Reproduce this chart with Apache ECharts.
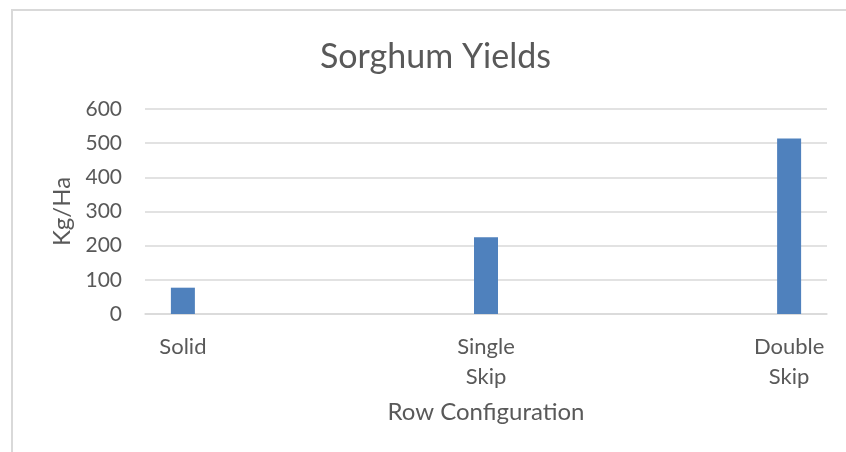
<!DOCTYPE html>
<html>
<head>
    <meta charset="utf-8">
    <title>Sorghum Yields</title>
    <script src="https://cdn.jsdelivr.net/npm/echarts@6/dist/echarts.min.js"></script>
    <style type="text/css">
        html, body { margin: 0; padding: 0; background: #fff; }
        #chart { width: 846px; height: 452px; }
    </style>
</head>
<body>
    <div id="chart"></div>
    <script>
        // categories are spread over 9 bands so bars sit like in the original
        var categories = ['Solid', '', '', '', 'Single\nSkip', '', '', '', 'Double\nSkip'];
        var yields = [77, null, null, null, 225, null, null, null, 514];
        var yTicks = [0, 100, 200, 300, 400, 500, 600];

        var textColor = '#595959';
        var font = 'Lato, "Open Sans", sans-serif';

        var chart = echarts.init(document.getElementById('chart'));
        var option = {
            animation: false,
            textStyle: { fontFamily: font, color: textColor },
            title: {
                text: 'Sorghum Yields',
                left: 315,
                top: 35,
                textStyle: { fontFamily: font, fontSize: 34, fontWeight: 'normal', color: textColor }
            },
            graphic: [{
                type: 'rect',
                shape: { x: 12, y: 10, width: 900, height: 500 },
                style: { fill: 'none', stroke: '#D9D9D9', lineWidth: 2 },
                silent: true
            }],
            grid: { left: 145, right: 19, top: 109, bottom: 138 },
            xAxis: {
                type: 'category',
                data: categories,
                name: 'Row Configuration',
                nameLocation: 'middle',
                nameGap: 86,
                nameTextStyle: { fontFamily: font, fontSize: 24, color: textColor },
                axisLine: { lineStyle: { color: '#D9D9D9', width: 1.5 } },
                axisTick: { show: false },
                axisLabel: { interval: 0, fontSize: 22, color: textColor, margin: 18, lineHeight: 30 }
            },
            yAxis: {
                type: 'value',
                min: yTicks[0],
                max: yTicks[yTicks.length - 1],
                interval: 100,
                name: 'Kg/Ha',
                nameLocation: 'middle',
                nameGap: 69,
                nameTextStyle: { fontFamily: font, fontSize: 24, color: textColor },
                axisLine: { show: false },
                axisTick: { show: false },
                axisLabel: { fontSize: 21, color: textColor, margin: 23 },
                splitLine: { lineStyle: { color: '#D9D9D9', width: 1.5 } }
            },
            series: [{
                type: 'bar',
                data: yields,
                barWidth: 24,
                itemStyle: { color: '#4F81BD' }
            }]
        };
        chart.setOption(option);
    </script>
</body>
</html>
